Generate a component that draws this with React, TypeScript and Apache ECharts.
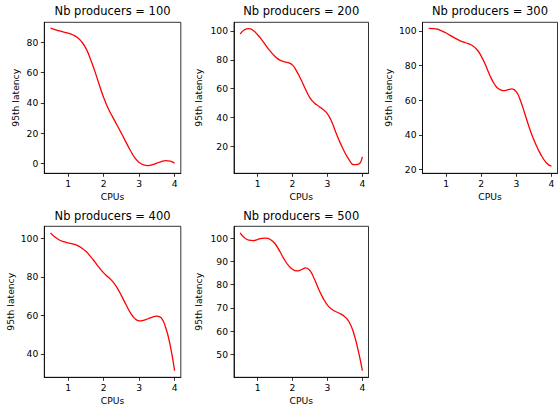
import React, { useEffect, useRef } from "react";
import * as echarts from "echarts";

const cpus = [
  0.5, 0.625, 0.75, 0.875, 1, 1.125, 1.25, 1.375, 1.5, 1.625, 1.75, 1.875, 2, 2.125, 2.25,
  2.375, 2.5, 2.625, 2.75, 2.875, 3, 3.125, 3.25, 3.375, 3.5, 3.625, 3.75, 3.875, 4,
];
const titles = ["Nb producers = 100", "Nb producers = 200", "Nb producers = 300", "Nb producers = 400", "Nb producers = 500"];
const p100 = [
  89.3, 88.4, 87.5, 86.7, 86, 85, 83.3, 80.5, 76, 69, 61, 52, 43.5, 36.5, 30.8,
  25.5, 20, 14.3, 8.8, 4, 0.8, -0.9, -1.3, -0.7, 0.3, 1.3, 1.9, 1.7, 0.3,
];
const p200 = [
  97.9, 100.8, 101.6, 100.3, 97.4, 93.6, 89.5, 85.6, 82.3, 79.9, 78.7, 78, 76.3, 71.8, 65.9,
  59.3, 53.5, 50, 47.7, 45.5, 42.5, 36.8, 29, 21.8, 15.5, 10.4, 7.2, 7.4, 12.6,
];
const p300 = [
  101.5, 101.4, 101, 100, 98.8, 97.3, 95.9, 94.6, 93.6, 92.7, 91.5, 89.3, 85.5, 80.2, 74.2,
  69.4, 66.5, 65.6, 66, 66.6, 65, 59.5, 51.8, 44, 37.2, 31.6, 27, 23.6, 22,
];
const p400 = [
  102.8, 100.6, 99.1, 98.2, 97.6, 97.1, 96.3, 95, 93.2, 90.6, 87.7, 84.7, 82, 79.9, 77.6,
  74.4, 70.2, 65.7, 61.4, 58.4, 57.1, 57.4, 58.2, 59.1, 59.6, 58.6, 53.5, 44.5, 31.2,
];
const p500 = [
  102.3, 100.2, 99.1, 98.9, 99.4, 99.9, 100, 99.3, 97.6, 94.6, 91.2, 88.4, 86.6, 85.9, 86.4,
  87.2, 86, 82.4, 78, 74.2, 71.2, 69.4, 68.3, 67.4, 66.1, 63.8, 59.2, 52, 43,
];
const seriesValues = [p100, p200, p300, p400, p500];
const xTicks = [1, 2, 3, 4];
const yTicks = [
  [0, 20, 40, 60, 80],
  [20, 40, 60, 80, 100],
  [20, 40, 60, 80, 100],
  [40, 60, 80, 100],
  [50, 60, 70, 80, 90, 100],
];
const yRanges = [
  [-6.4, 93.2],
  [1.2, 106],
  [17.9, 105],
  [27.8, 106.2],
  [40.1, 105.1],
];
const xRange = [0.325, 4.175];

const grids = [
  { left: 44.3, top: 22.3, width: 136.5, height: 151 },
  { left: 234, top: 22.3, width: 134.5, height: 151 },
  { left: 422.5, top: 22.3, width: 135, height: 151 },
  { left: 44.3, top: 226.3, width: 136.5, height: 151 },
  { left: 234, top: 226.3, width: 134.5, height: 151 },
];
const yNameGaps = [24.8, 31, 30, 29, 31];
const titleTops = [5.2, 5.2, 5.2, 209.6, 209.6];

const FONT = "DejaVu Sans";

export default function App() {
  const ref = useRef<HTMLDivElement>(null);
  useEffect(() => {
    if (!ref.current) return;
    const chart = echarts.init(ref.current, undefined, { renderer: "svg" });
    const n = seriesValues.length;
    const option: any = {
      animation: false,
      backgroundColor: "#fff",
      title: titles.map((t, i) => ({
        text: t,
        left: grids[i].left + grids[i].width / 2,
        top: titleTops[i],
        textAlign: "center",
        padding: 0,
        textStyle: { fontFamily: FONT, fontSize: 11.5, fontWeight: "normal", color: "#000" },
      })),
      grid: grids.map((g) => ({
        ...g,
        show: true,
        borderColor: "#000",
        borderWidth: 0.8,
        backgroundColor: "transparent",
        containLabel: false,
      })),
      xAxis: Array.from({ length: n }, (_, i) => ({
        type: "value",
        gridIndex: i,
        min: xRange[0],
        max: xRange[1],
        name: "CPUs",
        nameLocation: "middle",
        nameGap: 19,
        nameTextStyle: { fontFamily: FONT, fontSize: 9.2, color: "#000" },
        axisLine: { show: true, onZero: false, lineStyle: { color: "#000", width: 0.8 } },
        axisTick: { show: true, length: 3.5, lineStyle: { color: "#000", width: 0.8 }, customValues: xTicks },
        axisLabel: { fontFamily: FONT, fontSize: 9.2, color: "#000", margin: 6, customValues: xTicks },
        splitLine: { show: false },
      })),
      yAxis: Array.from({ length: n }, (_, i) => ({
        type: "value",
        gridIndex: i,
        min: yRanges[i][0],
        max: yRanges[i][1],
        name: "95th latency",
        nameLocation: "middle",
        nameGap: yNameGaps[i],
        nameTextStyle: { fontFamily: FONT, fontSize: 9.2, color: "#000" },
        axisLine: { show: true, onZero: false, lineStyle: { color: "#000", width: 0.8 } },
        axisTick: { show: true, length: 3.5, lineStyle: { color: "#000", width: 0.8 }, customValues: yTicks[i] },
        axisLabel: { fontFamily: FONT, fontSize: 9.2, color: "#000", margin: 6, customValues: yTicks[i] },
        splitLine: { show: false },
      })),
      series: seriesValues.map((vals, i) => ({
        type: "line",
        xAxisIndex: i,
        yAxisIndex: i,
        data: cpus.map((c, j) => [c, vals[j]]),
        smooth: 0.5,
        showSymbol: false,
        symbol: "none",
        lineStyle: { color: "#ff0000", width: 1.3 },
        silent: true,
      })),
    };
    chart.setOption(option);
    return () => chart.dispose();
  }, []);
  return (
    <div
      ref={ref}
      style={{ position: "absolute", left: 0, top: 0, width: 558, height: 411, background: "#fff" }}
    />
  );
}
